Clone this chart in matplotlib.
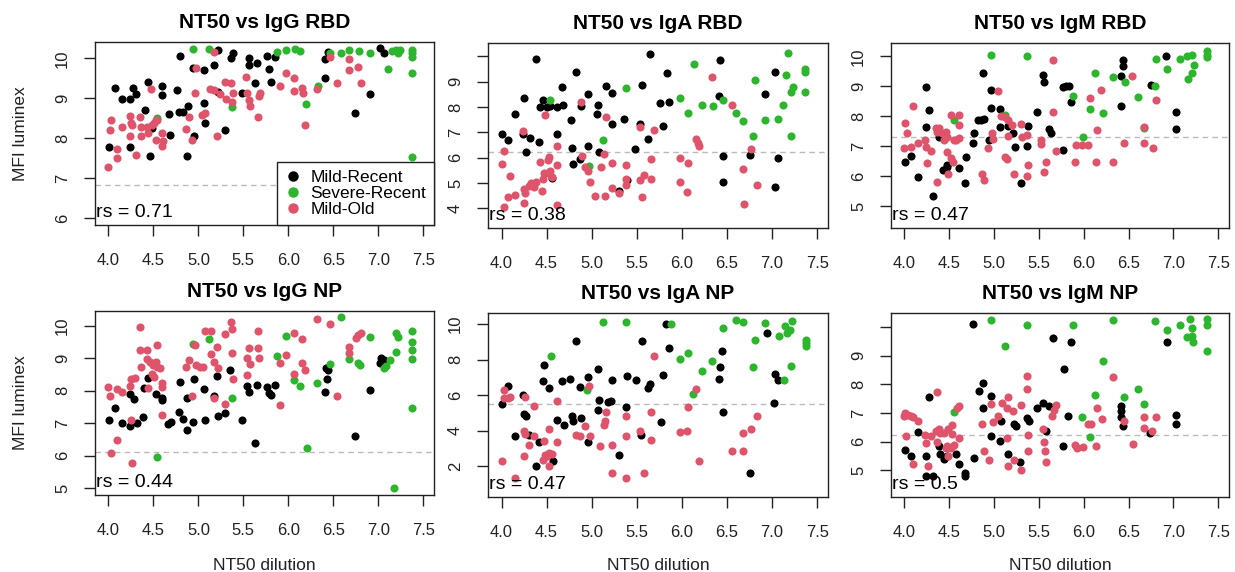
import matplotlib
matplotlib.use("Agg")
import matplotlib.pyplot as plt
from matplotlib.lines import Line2D

plt.rcParams['font.family'] = ['Liberation Sans', 'DejaVu Sans']

# colours of the three groups (R default palette look)
COL_MR = '#000000'
COL_SR = '#2DB52D'
COL_MO = '#DF536B'
group_names = ['Mild-Recent', 'Severe-Recent', 'Mild-Old']

x_ticks = [4.0, 4.5, 5.0, 5.5, 6.0, 6.5, 7.0, 7.5]

# ---------------- NT50 vs IgG RBD ----------------
igg_rbd_mr = [(4.07, 9.25), (4.15, 8.98), (4.24, 8.98), (4.27, 9.25), (4.31, 9.10), (4.44, 9.41),
              (4.41, 8.71), (4.48, 8.25), (4.60, 9.31), (4.60, 9.08), (4.67, 8.62), (4.68, 8.08),
              (4.76, 9.22), (4.80, 10.06), (4.78, 8.67), (4.83, 8.67), (4.88, 8.81), (4.87, 7.56),
              (4.94, 9.77), (4.95, 8.06), (5.06, 9.71), (5.06, 8.89), (5.07, 8.39), (5.17, 9.83),
              (5.22, 10.21), (5.22, 9.17), (5.30, 8.22), (5.36, 10.0), (5.39, 10.14), (5.48, 9.14),
              (5.56, 10.0), (5.56, 9.83), (5.63, 9.38), (5.65, 9.88), (5.76, 10.06), (5.78, 9.73),
              (5.81, 9.42), (5.85, 10.03), (6.41, 9.5), (6.41, 9.98), (6.44, 10.17), (6.74, 8.64),
              (6.91, 9.1), (7.02, 10.25), (7.06, 10.14), (4.01, 7.79), (4.24, 7.79), (4.46, 7.56)]
igg_rbd_sr = [(4.94, 10.23), (5.12, 10.23), (5.37, 8.79), (5.87, 10.15), (5.97, 10.21), (6.07, 10.23),
              (6.13, 10.19), (6.20, 8.87), (6.33, 9.31), (6.46, 10.13), (6.59, 10.13), (6.67, 10.21),
              (6.79, 10.19), (6.91, 10.13), (7.11, 9.73), (7.15, 10.19), (7.20, 10.21), (7.22, 10.13),
              (7.24, 10.20), (7.37, 10.21), (7.37, 10.13), (7.37, 10.04), (7.37, 9.63), (7.37, 7.54),
              (4.54, 8.50)]
igg_rbd_mo = [(3.99, 7.29), (4.02, 8.21), (4.03, 8.47), (4.09, 7.73), (4.09, 7.50), (4.15, 8.29),
              (4.24, 8.56), (4.25, 8.39), (4.24, 8.06), (4.26, 8.33), (4.31, 7.58), (4.35, 8.54),
              (4.36, 8.29), (4.36, 8.06), (4.43, 8.29), (4.44, 8.13), (4.47, 9.23), (4.48, 8.33),
              (4.51, 8.38), (4.53, 8.46), (4.54, 8.47), (4.53, 7.96), (4.60, 8.13), (4.61, 7.92),
              (4.60, 7.81), (4.86, 8.23), (4.89, 8.54), (4.93, 7.96), (4.97, 9.75), (4.96, 9.14),
              (5.04, 8.58), (5.07, 8.64), (5.13, 9.23), (5.17, 10.17), (5.17, 9.21), (5.21, 8.06),
              (5.24, 9.10), (5.30, 9.42), (5.36, 9.38), (5.31, 8.98), (5.37, 8.92), (5.39, 9.14),
              (5.53, 9.54), (5.54, 9.14), (5.56, 8.96), (5.57, 8.81), (5.66, 8.54), (5.67, 9.06),
              (5.69, 9.14), (5.91, 9.31), (5.97, 9.63), (6.06, 9.50), (6.06, 9.19), (6.15, 9.27),
              (6.16, 9.14), (6.19, 8.33), (6.32, 9.23), (6.46, 10.03), (6.54, 9.39), (6.67, 9.98),
              (6.67, 9.71), (6.77, 9.79), (6.81, 9.39)]

# ---------------- NT50 vs IgA RBD ----------------
iga_rbd_mr = [(4.38, 9.90), (4.01, 6.95), (4.07, 6.71), (4.15, 7.74), (4.25, 8.35), (4.27, 6.23),
              (4.24, 6.95), (4.32, 6.79), (4.41, 6.62), (4.43, 8.0), (4.46, 8.26), (4.50, 8.0),
              (4.54, 8.03), (4.61, 8.0), (4.68, 8.07), (4.61, 6.95), (4.67, 8.79), (4.56, 5.21),
              (4.77, 7.50), (4.78, 6.40), (4.79, 5.74), (4.83, 9.38), (4.87, 5.93), (4.88, 8.03),
              (4.96, 8.50), (4.96, 6.45), (5.07, 8.07), (5.06, 7.74), (5.08, 6.23), (5.16, 8.81),
              (5.22, 8.55), (5.23, 7.32), (5.36, 7.54), (5.30, 4.70), (5.39, 5.11), (5.48, 6.36),
              (5.56, 8.85), (5.54, 7.34), (5.62, 6.75), (5.65, 10.1), (5.76, 8.16), (5.79, 7.24),
              (5.83, 9.34), (5.86, 8.20), (6.42, 9.86), (6.41, 8.43), (6.46, 6.06), (6.46, 5.05),
              (6.76, 6.10), (6.92, 8.52), (7.03, 9.38), (7.07, 5.97), (7.03, 4.83)]
iga_rbd_sr = [(4.54, 8.26), (4.97, 5.68), (5.13, 6.69), (5.38, 8.76), (5.98, 8.37), (6.07, 7.76),
              (6.13, 9.70), (6.22, 8.07), (6.34, 8.03), (6.46, 8.26), (6.60, 7.76), (6.68, 7.45),
              (6.79, 6.85), (6.81, 9.05), (6.92, 7.48), (7.07, 7.54), (7.12, 8.07), (7.15, 9.25),
              (7.18, 10.12), (7.21, 6.85), (7.21, 8.59), (7.23, 8.79), (7.37, 9.51), (7.37, 9.38),
              (7.37, 8.59)]
iga_rbd_mo = [(4.03, 6.27), (4.0, 5.77), (4.03, 4.04), (4.09, 5.27), (4.07, 4.46), (4.15, 4.52),
              (4.24, 7.04), (4.25, 4.75), (4.25, 4.22), (4.26, 4.59), (4.31, 4.88), (4.33, 5.01),
              (4.36, 4.85), (4.38, 5.05), (4.43, 5.84), (4.45, 4.70), (4.46, 5.18), (4.48, 7.67),
              (4.47, 5.38), (4.51, 5.90), (4.53, 6.03), (4.52, 5.38), (4.54, 5.48), (4.56, 5.25),
              (4.61, 6.45), (4.61, 5.73), (4.61, 4.13), (4.88, 8.20), (4.89, 6.06), (4.93, 5.64),
              (4.96, 5.48), (4.98, 5.05), (5.04, 4.49), (5.10, 5.64), (5.16, 7.61), (5.14, 6.14),
              (5.15, 4.49), (5.22, 5.80), (5.23, 4.79), (5.30, 4.59), (5.38, 5.70), (5.38, 5.18),
              (5.38, 4.92), (5.54, 7.21), (5.53, 5.14), (5.58, 5.31), (5.56, 4.46), (5.66, 5.93),
              (5.66, 5.18), (5.69, 7.11), (5.98, 5.97), (5.98, 5.05), (6.07, 5.80), (6.06, 4.66),
              (6.16, 6.75), (6.18, 6.58), (6.19, 6.47), (6.33, 9.18), (6.55, 8.07), (6.68, 5.57),
              (6.69, 4.17), (6.77, 6.36), (6.83, 4.92)]

# ---------------- NT50 vs IgM RBD ----------------
igm_rbd_mr = [(4.01, 6.48), (4.07, 6.67), (4.15, 5.98), (4.24, 8.97), (4.24, 7.63), (4.27, 8.21),
              (4.32, 5.33), (4.38, 7.32), (4.43, 6.21), (4.47, 6.37), (4.48, 6.32), (4.61, 6.26),
              (4.67, 5.78), (4.69, 6.65), (4.78, 7.43), (4.77, 7.12), (4.82, 7.88), (4.85, 7.88),
              (4.88, 9.44), (4.89, 7.90), (4.96, 8.27), (4.94, 7.21), (4.96, 8.88), (5.07, 8.24),
              (5.07, 7.63), (5.16, 7.68), (5.21, 7.46), (5.23, 6.99), (5.30, 5.76), (5.38, 7.68),
              (5.37, 7.01), (5.48, 8.13), (5.54, 9.39), (5.56, 9.16), (5.61, 7.57), (5.63, 7.43),
              (5.77, 6.88), (5.77, 8.97), (5.80, 9.02), (5.83, 9.02), (5.86, 8.49), (6.42, 9.35),
              (6.41, 8.35), (6.44, 9.89), (6.44, 9.67), (6.75, 9.05), (6.92, 10.02), (7.03, 8.16),
              (7.03, 7.57)]
igm_rbd_sr = [(4.55, 7.88), (4.96, 10.06), (5.37, 10.02), (5.12, 8.05), (5.88, 8.68), (5.99, 7.32),
              (6.07, 8.24), (6.12, 9.44), (6.22, 8.10), (6.33, 9.31), (6.46, 9.16), (6.61, 8.66),
              (6.67, 7.60), (6.80, 9.0), (6.81, 9.91), (6.93, 9.58), (7.07, 9.91), (7.15, 10.02),
              (7.21, 10.06), (7.16, 9.24), (7.21, 9.46), (7.23, 9.72), (7.37, 10.17), (7.37, 10.06),
              (7.37, 9.98)]
igm_rbd_mo = [(3.99, 6.95), (4.01, 7.79), (4.03, 7.43), (4.07, 6.99), (4.09, 8.33), (4.15, 7.10),
              (4.23, 7.21), (4.24, 6.99), (4.25, 6.43), (4.30, 6.85), (4.36, 5.82), (4.35, 7.60),
              (4.36, 7.49), (4.39, 7.60), (4.42, 7.43), (4.44, 7.21), (4.46, 7.49), (4.47, 7.32),
              (4.48, 6.82), (4.49, 6.09), (4.52, 8.05), (4.52, 6.60), (4.54, 6.48), (4.55, 7.21),
              (4.57, 7.21), (4.61, 8.05), (4.61, 7.71), (4.61, 7.27), (4.86, 6.09), (4.89, 5.87),
              (4.93, 6.93), (4.98, 7.43), (4.99, 7.23), (5.04, 8.86), (5.08, 8.01), (5.12, 7.99),
              (5.12, 6.65), (5.14, 6.56), (5.16, 7.34), (5.16, 7.88), (5.20, 7.71), (5.22, 6.09),
              (5.30, 7.75), (5.31, 7.30), (5.37, 7.38), (5.38, 6.37), (5.37, 6.0), (5.52, 7.21),
              (5.52, 7.08), (5.56, 6.15), (5.58, 6.48), (5.66, 9.89), (5.66, 8.13), (5.69, 6.85),
              (5.90, 6.48), (5.91, 7.04), (5.98, 7.04), (6.05, 7.04), (6.07, 8.60), (6.14, 6.48),
              (6.15, 7.55), (6.19, 8.88), (6.33, 6.48), (6.45, 7.12), (6.54, 9.35), (6.67, 7.66),
              (6.67, 7.12), (6.77, 6.93), (6.81, 8.53)]

# ---------------- NT50 vs IgG NP ----------------
igg_np_mr = [(4.01, 7.10), (4.07, 7.48), (4.15, 7.0), (4.24, 6.90), (4.24, 7.89), (4.28, 7.75),
             (4.32, 7.02), (4.38, 7.18), (4.40, 8.09), (4.44, 8.38), (4.53, 7.89), (4.60, 7.77),
             (4.60, 7.70), (4.66, 6.98), (4.69, 7.05), (4.78, 7.33), (4.80, 8.28), (4.83, 7.12),
             (4.87, 6.79), (4.87, 7.77), (4.95, 8.35), (4.94, 7.05), (5.06, 8.04), (5.07, 7.10),
             (5.17, 7.82), (5.21, 8.46), (5.22, 7.22), (5.30, 7.31), (5.35, 8.62), (5.48, 7.10),
             (5.54, 8.15), (5.56, 7.97), (5.63, 6.38), (5.65, 8.18), (5.76, 8.10), (5.78, 7.94),
             (5.81, 7.87), (5.85, 8.18), (6.41, 7.97), (6.43, 8.35), (6.42, 8.69), (6.44, 8.62),
             (6.74, 6.59), (6.91, 8.02), (7.03, 9.0), (7.02, 8.86), (7.06, 8.94)]
igg_np_sr = [(4.94, 9.44), (5.12, 9.58), (5.37, 7.77), (4.54, 5.97), (5.87, 9.07), (5.97, 9.68),
             (6.06, 8.33), (6.13, 8.15), (6.21, 6.23), (6.32, 8.23), (6.46, 8.82), (6.59, 10.26),
             (6.67, 8.97), (6.78, 8.84), (6.80, 8.80), (6.91, 9.66), (7.06, 8.69), (7.09, 8.76),
             (7.13, 8.94), (7.17, 5.0), (7.20, 9.20), (7.20, 9.76), (7.22, 9.66), (7.37, 9.85),
             (7.37, 9.51), (7.37, 9.25), (7.37, 8.98), (7.37, 7.48)]
igg_np_mo = [(3.99, 8.10), (4.02, 7.85), (4.03, 6.08), (4.09, 6.49), (4.09, 8.04), (4.15, 7.97),
             (4.24, 8.15), (4.25, 8.35), (4.25, 7.10), (4.26, 5.77), (4.30, 8.40), (4.35, 9.97),
             (4.35, 9.25), (4.36, 8.74), (4.43, 9.25), (4.43, 8.97), (4.44, 8.07), (4.46, 8.89),
             (4.48, 8.51), (4.49, 8.79), (4.51, 8.43), (4.53, 8.89), (4.54, 9.41), (4.54, 8.72),
             (4.57, 8.69), (4.60, 8.23), (4.60, 8.12), (4.60, 7.25), (4.93, 7.84), (4.86, 8.72),
             (4.89, 8.94), (4.96, 9.41), (4.97, 8.79), (5.02, 8.74), (5.05, 8.74), (5.07, 9.85),
             (5.14, 9.85), (5.14, 9.13), (5.17, 7.77), (5.17, 8.89), (5.21, 9.35), (5.22, 8.69),
             (5.30, 7.59), (5.30, 9.73), (5.36, 10.12), (5.37, 9.89), (5.37, 9.15), (5.39, 8.35),
             (5.54, 9.0), (5.54, 8.48), (5.56, 9.30), (5.57, 8.82), (5.66, 9.85), (5.66, 9.30),
             (5.67, 9.0), (5.91, 7.56), (5.91, 8.84), (5.97, 9.10), (6.06, 9.76), (6.06, 8.51),
             (6.15, 9.58), (6.15, 8.84), (6.19, 8.62), (6.32, 10.19), (6.46, 10.04), (6.54, 7.82),
             (6.67, 9.33), (6.67, 9.17), (6.75, 9.61), (6.78, 9.71), (6.81, 9.76)]

# ---------------- NT50 vs IgA NP ----------------
iga_np_mr = [(4.01, 5.52), (4.07, 6.53), (4.15, 3.69), (4.24, 6.03), (4.25, 4.96), (4.27, 4.85),
             (4.31, 3.78), (4.38, 2.04), (4.41, 3.35), (4.46, 6.78), (4.47, 7.71), (4.53, 6.40),
             (4.57, 2.28), (4.61, 4.62), (4.67, 6.78), (4.69, 4.34), (4.76, 6.91), (4.78, 4.81),
             (4.79, 4.53), (4.83, 9.06), (4.87, 6.46), (4.88, 4.72), (4.96, 7.02), (4.96, 3.35),
             (5.07, 7.47), (5.08, 5.71), (5.07, 5.15), (5.18, 5.60), (5.21, 5.65), (5.23, 6.83),
             (5.30, 2.66), (5.38, 5.33), (5.39, 7.06), (5.49, 6.83), (5.56, 9.02), (5.55, 3.78),
             (5.62, 6.40), (5.65, 6.64), (5.77, 4.47), (5.79, 7.15), (5.82, 10.0), (5.86, 8.65),
             (6.44, 8.46), (6.42, 7.58), (6.41, 6.91), (6.46, 5.05), (6.76, 1.63), (6.94, 9.49),
             (7.02, 5.56), (7.03, 7.21), (7.07, 6.83)]
iga_np_sr = [(4.55, 8.22), (4.95, 6.31), (5.13, 10.09), (5.38, 10.09), (5.88, 10.0), (5.98, 8.03),
             (6.07, 8.37), (6.12, 6.08), (6.22, 7.34), (6.33, 7.90), (6.46, 9.77), (6.60, 10.20),
             (6.68, 10.11), (6.79, 7.58), (6.81, 9.08), (6.92, 10.05), (7.08, 9.30), (7.13, 6.83),
             (7.14, 9.90), (7.17, 9.49), (7.20, 9.68), (7.22, 10.15), (7.21, 7.66), (7.38, 9.12),
             (7.38, 8.93), (7.38, 8.74)]
iga_np_mo = [(4.0, 2.28), (4.03, 6.27), (4.03, 5.84), (4.07, 5.84), (4.09, 5.90), (4.15, 1.34),
             (4.25, 3.97), (4.26, 3.84), (4.25, 2.56), (4.26, 5.90), (4.31, 3.22), (4.36, 3.69),
             (4.36, 5.37), (4.47, 3.40), (4.46, 2.37), (4.48, 2.66), (4.50, 2.60), (4.53, 2.75),
             (4.53, 4.10), (4.53, 2.04), (4.56, 2.71), (4.61, 5.65), (4.61, 3.35), (4.83, 3.78),
             (4.87, 3.69), (4.93, 4.25), (4.97, 6.53), (4.98, 3.72), (5.09, 3.16), (5.14, 4.34),
             (5.15, 4.53), (5.16, 5.03), (5.22, 3.22), (5.23, 1.63), (5.38, 4.81), (5.38, 3.72),
             (5.38, 1.34), (5.54, 3.97), (5.58, 1.63), (5.66, 5.03), (5.66, 3.46), (5.69, 8.18),
             (5.98, 3.91), (6.06, 3.97), (6.07, 5.33), (6.16, 6.34), (6.19, 2.28), (6.55, 2.84),
             (6.68, 2.84), (6.68, 3.87), (6.77, 4.10), (6.83, 4.85)]

# ---------------- NT50 vs IgM NP ----------------
igm_np_mr = [(4.01, 5.72), (4.07, 5.49), (4.15, 6.33), (4.24, 5.51), (4.24, 4.79), (4.27, 7.56),
             (4.32, 4.79), (4.38, 5.86), (4.40, 5.58), (4.44, 5.40), (4.48, 5.51), (4.57, 5.58),
             (4.61, 5.23), (4.67, 4.81), (4.68, 4.91), (4.77, 10.12), (4.78, 5.43), (4.83, 7.76),
             (4.88, 8.05), (4.88, 7.17), (4.96, 6.21), (5.07, 6.01), (5.08, 6.71), (4.96, 7.58),
             (5.16, 5.58), (5.22, 6.63), (5.24, 6.56), (5.29, 5.28), (5.37, 6.83), (5.39, 6.71),
             (5.48, 7.17), (5.54, 7.35), (5.58, 6.36), (5.61, 7.23), (5.66, 9.62), (5.77, 5.84),
             (5.78, 8.53), (5.82, 6.91), (5.86, 9.47), (6.41, 7.26), (6.42, 7.06), (6.41, 6.86),
             (6.44, 6.53), (6.74, 6.30), (6.93, 9.47), (7.03, 6.94), (7.03, 6.63)]
igm_np_sr = [(4.55, 7.02), (4.96, 10.23), (5.12, 9.33), (5.37, 10.08), (5.88, 10.08), (5.98, 6.86),
             (6.07, 6.16), (6.12, 7.64), (6.22, 8.80), (6.33, 10.23), (6.45, 7.56), (6.60, 7.84),
             (6.67, 7.33), (6.80, 10.20), (6.93, 9.91), (7.07, 10.08), (7.15, 9.65), (7.18, 10.28),
             (7.21, 9.97), (7.21, 9.70), (7.22, 9.47), (7.37, 10.28), (7.37, 10.08), (7.37, 9.15)]
igm_np_mo = [(3.99, 6.88), (4.01, 7.0), (4.04, 6.94), (4.07, 6.88), (4.10, 6.86), (4.15, 6.71),
             (4.02, 6.19), (4.09, 5.23), (4.23, 6.24), (4.24, 5.95), (4.26, 5.16), (4.30, 6.21),
             (4.36, 7.72), (4.35, 6.36), (4.36, 5.98), (4.39, 6.44), (4.40, 6.30), (4.44, 6.30),
             (4.46, 5.78), (4.49, 6.44), (4.48, 5.84), (4.49, 5.51), (4.52, 5.78), (4.53, 6.28),
             (4.53, 6.59), (4.55, 5.90), (4.59, 7.17), (4.61, 7.26), (4.61, 6.13), (4.87, 6.63),
             (4.89, 5.66), (4.94, 5.37), (4.96, 7.33), (4.99, 6.67), (5.04, 6.88), (5.09, 7.35),
             (5.14, 6.13), (5.16, 7.56), (5.16, 5.16), (5.14, 7.17), (5.21, 7.06), (5.22, 5.37),
             (5.30, 7.29), (5.30, 5.0), (5.37, 8.28), (5.37, 7.84), (5.38, 6.24), (5.38, 5.66),
             (5.54, 6.44), (5.56, 5.98), (5.57, 5.66), (5.58, 5.28), (5.67, 7.09), (5.69, 7.29),
             (5.65, 6.91), (5.90, 5.90), (5.93, 5.78), (5.99, 5.81), (6.05, 6.63), (6.08, 6.63),
             (6.14, 5.86), (6.15, 7.17), (6.20, 6.79), (6.33, 8.26), (6.45, 6.71), (6.55, 5.93),
             (6.67, 6.86), (6.67, 6.48), (6.76, 6.36), (6.81, 6.86)]

titles = ['NT50 vs IgG RBD', 'NT50 vs IgA RBD', 'NT50 vs IgM RBD',
          'NT50 vs IgG NP', 'NT50 vs IgA NP', 'NT50 vs IgM NP']
rs_values = ['0.71', '0.38', '0.47', '0.44', '0.47', '0.5']
cutoffs = [6.82, 6.24, 7.32, 6.11, 5.52, 6.23]
y_ticks = [[6, 7, 8, 9, 10], [4, 5, 6, 7, 8, 9, 10], [5, 6, 7, 8, 9, 10],
           [5, 6, 7, 8, 9, 10], [2, 4, 6, 8, 10], [5, 6, 7, 8, 9, 10]]
y_ticklabels = [['6', '7', '8', '9', '10'], ['4', '5', '6', '7', '8', '9', ''],
                ['5', '6', '7', '8', '9', '10'], ['5', '6', '7', '8', '9', '10'],
                ['2', '4', '6', '8', '10'], ['5', '6', '7', '8', '9', '']]
y_limits = [(5.83, 10.41), (3.23, 10.52), (4.27, 10.45),
            (4.79, 10.45), (0.28, 10.62), (4.07, 10.49)]
panel_points = [(igg_rbd_mr, igg_rbd_sr, igg_rbd_mo), (iga_rbd_mr, iga_rbd_sr, iga_rbd_mo),
                (igm_rbd_mr, igm_rbd_sr, igm_rbd_mo), (igg_np_mr, igg_np_sr, igg_np_mo),
                (iga_np_mr, iga_np_sr, iga_np_mo), (igm_np_mr, igm_np_sr, igm_np_mo)]

W, H = 1235, 572
fig = plt.figure(figsize=(W / 100, H / 100), dpi=100)

# panel boxes in pixels: left, right, top, bottom
boxes = [(95, 434, 42, 225), (488, 828, 43, 228), (891, 1229, 43, 228),
         (95, 434, 311, 495), (488, 828, 313, 497), (891, 1229, 313, 497)]

axes = []
for i, (l, r, t, b) in enumerate(boxes):
    ax = fig.add_axes([l / W, 1 - b / H, (r - l) / W, (b - t) / H])
    axes.append(ax)
    mr, sr, mo = panel_points[i]
    for pts, col in [(mr, COL_MR), (sr, COL_SR), (mo, COL_MO)]:
        ax.scatter([p[0] for p in pts], [p[1] for p in pts], s=34, color=col,
                   linewidths=0, zorder=3)
    ax.axhline(cutoffs[i], color='#BBBBBB', lw=1.0, ls=(0, (4, 3)), zorder=2)
    ax.set_xlim(3.85, 7.62)
    ax.set_ylim(*y_limits[i])
    ax.set_xticks(x_ticks)
    ax.set_xticklabels([f'{v:.1f}' for v in x_ticks])
    ax.set_yticks(y_ticks[i])
    ax.set_yticklabels(y_ticklabels[i])
    ax.tick_params(axis='both', direction='out', length=8, width=1.0,
                   labelsize=12, color='#222222', labelcolor='#222222')
    ax.tick_params(axis='x', pad=12)
    ax.tick_params(axis='y', pad=10, labelrotation=90)
    for lab in ax.get_yticklabels():
        lab.set_va('center')
    for sp in ax.spines.values():
        sp.set_linewidth(1.0)
        sp.set_color('#222222')
    ax.set_title(titles[i], fontsize=15, fontweight='bold', pad=10)
    ax.text(0.003, 0.045, 'rs = ' + rs_values[i], transform=ax.transAxes,
            fontsize=14, ha='left', va='baseline', zorder=5)

# legend in first panel
handles = [Line2D([], [], ls='none', marker='o', markersize=7.5, markeredgewidth=0,
                  color=c) for c in [COL_MR, COL_SR, COL_MO]]
leg = axes[0].legend(handles, group_names, loc='lower right', borderaxespad=0,
                     fontsize=12.5, frameon=True, fancybox=False, framealpha=1,
                     edgecolor='#222222', handlelength=1.0, handletextpad=0.5,
                     labelspacing=0.05, borderpad=0.45)
leg.get_frame().set_linewidth(1.0)
leg.set_zorder(6)

# axis labels
for t, b in [(42, 225), (311, 495)]:
    fig.text(21 / W, 1 - (t + b) / 2 / H, 'MFI luminex', rotation=90,
             ha='center', va='center', fontsize=12.5, color='#222222')
for l, r, t, b in boxes[3:]:
    fig.text((l + r) / 2 / W, 1 - 570 / H, 'NT50 dilution', ha='center',
             va='baseline', fontsize=12.5, color='#222222')

fig.savefig('out.png', dpi=100)
